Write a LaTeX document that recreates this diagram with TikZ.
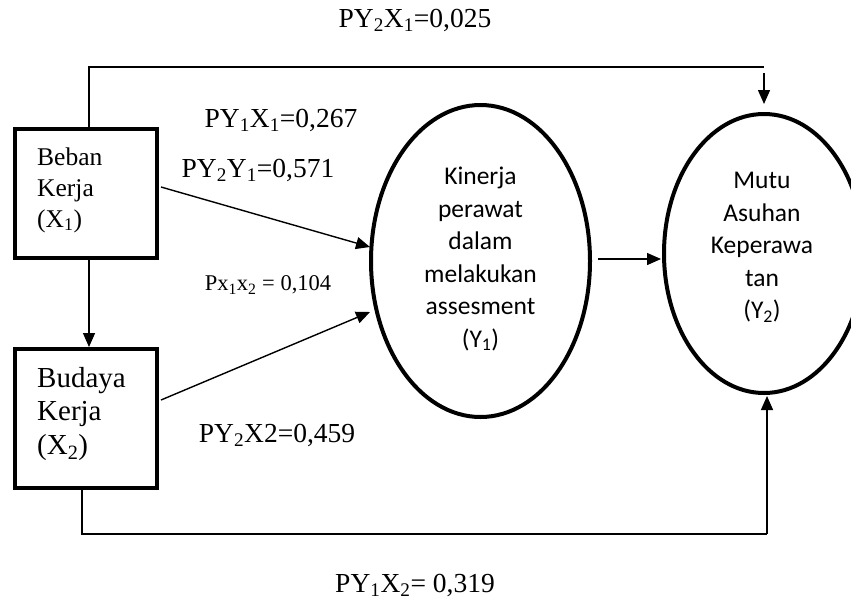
\documentclass[tikz,border=0pt]{standalone}
\usepackage{fontspec}
\setmainfont{Liberation Serif}
\newfontfamily\ovalfont{Carlito}
\usetikzlibrary{shapes.geometric,arrows.meta}
\begin{document}
\begin{tikzpicture}[x=1pt,y=-1pt,
  boxnode/.style={draw, line width=4pt, minimum width=142pt, inner sep=0pt},
  ovalnode/.style={ellipse, draw, line width=4pt, inner sep=0pt},
  boxtext/.style={align=left, anchor=west, inner sep=0pt},
  ovaltext/.style={align=center, inner sep=0pt, font=\ovalfont\fontsize{25.5}{32.5}\selectfont},
  conn/.style={line width=1.4pt},
  arr/.style={conn, -{Triangle[length=14pt,width=12pt]}},
  lbl/.style={inner sep=0pt, font=\fontsize{27.5}{30}\selectfont},
  smalllbl/.style={inner sep=0pt, font=\fontsize{22.5}{26}\selectfont}]
\useasboundingbox[fill=white] (0,0) rectangle (851,600);
\clip (0,0) rectangle (851,600);

% nodes
\node[boxnode, minimum height=129pt] (x1) at (86,193.5) {};
\node[boxnode, minimum height=139pt] (x2) at (86,418.5) {};
\node[boxtext, font=\fontsize{25.5}{31}\selectfont] (x1t) at (37,190) {Beban\\Kerja\\(X\textsubscript{1})};
\node[boxtext, font=\fontsize{29}{33.5}\selectfont] (x2t) at (37,414) {Budaya\\Kerja\\(X\textsubscript{2})};
\node[ovalnode, minimum width=219pt, minimum height=312pt] (y1) at (480.5,261) {};
\node[ovalnode, minimum width=200pt, minimum height=279pt] (y2) at (764,253.5) {};
\node[ovaltext] (y1t) at (480.5,259) {Kinerja\\perawat\\dalam\\melakukan\\assesment\\(Y\textsubscript{1})};
\node[ovaltext] (y2t) at (762,247.5) {Mutu\\Asuhan\\Keperawa\\tan\\(Y\textsubscript{2})};

% labels
\node[lbl] (l1) at (415,20) {PY\textsubscript{2}X\textsubscript{1}=0,025};
\node[lbl] (l2) at (281,120) {PY\textsubscript{1}X\textsubscript{1}=0,267};
\node[lbl] (l3) at (258,170) {PY\textsubscript{2}Y\textsubscript{1}=0,571};
\node[smalllbl] (l4) at (268,285) {Px\textsubscript{1}x\textsubscript{2} = 0,104};
\node[lbl] (l5) at (277,435) {PY\textsubscript{2}X2=0,459};
\node[lbl] (l6) at (415,585) {PY\textsubscript{1}X\textsubscript{2}= 0,319};

% coordinates for connector ends
\coordinate (tl) at (89,67);
\coordinate (tr) at (764,67);
\coordinate (ta) at (764,73);
\coordinate (tb) at (764,104);
\coordinate (a1) at (161,187);
\coordinate (b1) at (370,247);
\coordinate (a2) at (161,400);
\coordinate (b2) at (370,312);
\coordinate (c1) at (598,259);
\coordinate (c2) at (661,259);
\coordinate (bl) at (82,534);
\coordinate (br) at (767,534);
\coordinate (bt) at (767,396);

% connectors
\draw[conn] (x1.north -| tl) -- (tl) -- (tr);
\draw[arr] (ta) -- (tb);
\draw[arr] (x1.south -| tl) -- (x2.north -| tl);
\draw[arr] (a1) -- (b1);
\draw[arr] (a2) -- (b2);
\draw[arr] (c1) -- (c2);
\draw[conn] (x2.south -| bl) -- (bl) -- (br);
\draw[arr] (br) -- (bt);
\end{tikzpicture}
\end{document}
